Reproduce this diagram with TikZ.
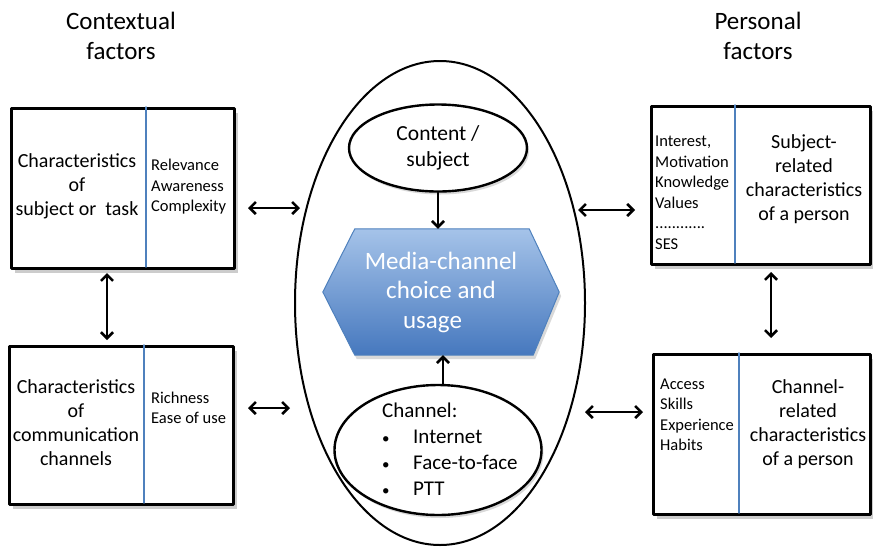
\documentclass[tikz,border=0pt]{standalone}
\usepackage{fontspec}
\setmainfont{Carlito}
\usetikzlibrary{arrows.meta,shadows,positioning,shapes.geometric}
\definecolor{divblue}{RGB}{79,129,189}
\definecolor{hextop}{RGB}{165,195,233}
\definecolor{hexbot}{RGB}{70,120,190}
\newcommand{\chanbullet}{\makebox[31pt][l]{\fontsize{15}{15}\selectfont\textbullet}}
\begin{document}
\begin{tikzpicture}[x=1pt, y=-1pt, line join=round, line cap=round,
	>={Straight Barb[length=6pt,width=12pt]},
	factorbox/.style={draw, line width=3pt, fill=white, rectangle, inner sep=0pt, anchor=north west,
		drop shadow={shadow xshift=3pt, shadow yshift=-4pt, opacity=.4}},
	divider/.style={draw=divblue, line width=1.4pt},
	bigtxt/.style={align=center, inner sep=0pt, font=\fontsize{20}{24}\selectfont},
	smalltxt/.style={align=left, inner sep=0pt, anchor=west, font=\fontsize{16.5}{20.5}\selectfont},
	titletxt/.style={align=center, inner sep=0pt, font=\fontsize{25}{30}\selectfont},
	oval/.style={draw, ellipse, line width=2.4pt, fill=white, inner sep=0pt},
	link/.style={<->, line width=2.6pt}]
	\useasboundingbox (0,0) rectangle (873,547);
	% titles
	\node[titletxt] (ctxtitle) at (121,36) {Contextual\\factors};
	\node[titletxt] (perstitle) at (758,36) {Personal\\factors};
	% contextual boxes
	\node[factorbox, minimum width=223pt, minimum height=160pt] (subjbox) at (10,107) {};
	\draw[divider] (146,107) -- (146,267);
	\node[bigtxt] (subjtxt) at (77,186) {Characteristics\\of\\subject or\ \ task};
	\node[smalltxt] (subjlist) at (151,187) {Relevance\\Awareness\\Complexity};
	\node[factorbox, minimum width=224pt, minimum height=158pt] (chanbox) at (8,345) {};
	\draw[divider] (144,345) -- (144,503);
	\node[bigtxt] (chantxt) at (76,423) {Characteristics\\of\\communication\\channels};
	\node[smalltxt] (chanlist) at (151,408) {Richness\\Ease of use};
	% personal boxes
	\node[factorbox, minimum width=219pt, minimum height=158pt] (persbox) at (650,105) {};
	\draw[divider] (735,105) -- (735,263);
	\node[bigtxt] (perstxt) at (804,179) {Subject-\\related\\characteristics\\of a person};
	\node[smalltxt] (perslist) at (655,193) {Interest,\\Motivation\\Knowledge\\Values\\............\\SES};
	\node[factorbox, minimum width=217pt, minimum height=160pt] (habbox) at (652,353) {};
	\draw[divider] (739,353) -- (739,513);
	\node[bigtxt] (habtxt) at (808,424) {Channel-\\related\\characteristics\\of a person};
	\node[smalltxt] (hablist) at (660,415) {Access\\Skills\\Experience\\Habits};
	% centre
	\node[draw, ellipse, line width=2pt, minimum width=290pt, minimum height=484pt] (core) at (440,303) {};
	\node[oval, minimum width=178pt, minimum height=87pt,
		drop shadow={shadow xshift=2pt, shadow yshift=-3pt, opacity=.3}] (content) at (438,148) {};
	\node[font=\fontsize{21.5}{26.5}\selectfont, align=center] (contenttxt) at (content) {Content /\\subject};
	\node[oval, minimum width=207pt, minimum height=130pt,
		drop shadow={shadow xshift=2pt, shadow yshift=-3pt, opacity=.3}] (channel) at (438,450) {};
	\node[font=\fontsize{21}{26}\selectfont, align=left, anchor=west, inner sep=0pt] (channeltxt) at (382,449)
		{Channel:\\\chanbullet Internet\\\chanbullet Face-to-face\\\chanbullet PTT};
	\node[minimum width=236pt, minimum height=126pt, inner sep=0pt] (choice) at (441,292) {};
	\path[draw=divblue, line width=1pt, top color=hextop, bottom color=hexbot,
		drop shadow={shadow xshift=2pt, shadow yshift=-4pt, opacity=.3}]
		(choice.west) -- ([xshift=32pt]choice.north west) -- ([xshift=-30pt]choice.north east)
		-- (choice.east) -- ([xshift=-26pt]choice.south east) -- ([xshift=32pt]choice.south west) -- cycle;
	\node[text=white, align=center, font=\fontsize{25}{29.5}\selectfont] (choicetxt) at (choice)
		{Media-channel\\choice and\\usage\hspace*{17pt}};
	% connectors
	\coordinate (lt) at (300,208);
	\coordinate (lb) at (290,408);
	\coordinate (rt) at (578,210);
	\coordinate (rb) at (585,412);
	\draw[link, shorten <=12pt] (subjbox.east |- lt) -- (lt);
	\draw[link, shorten <=13pt] (chanbox.east |- lb) -- (lb);
	\draw[link, shorten >=15pt] (rt) -- (persbox.west |- rt);
	\draw[link, shorten >=9pt] (rb) -- (habbox.west |- rb);
	\draw[link, shorten <=3pt, shorten >=5pt] ([xshift=-16pt]subjbox.south) -- ([xshift=-16pt]subjbox.south |- chanbox.north);
	\draw[link, shorten <=6pt, shorten >=15pt] ([xshift=10pt]persbox.south) -- ([xshift=10pt]persbox.south |- habbox.north);
	\draw[->, line width=2.6pt] (content.south) -- (content.south |- choice.north);
	\draw[->, line width=2.6pt] ([xshift=5pt]channel.north) -- ([xshift=5pt]channel.north |- choice.south);
\end{tikzpicture}
\end{document}
